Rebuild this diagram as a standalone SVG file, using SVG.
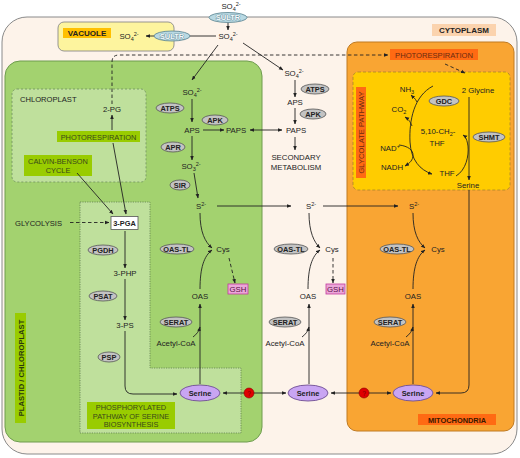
<svg xmlns="http://www.w3.org/2000/svg" width="520" height="458" viewBox="0 0 520 458">
<defs>
<marker id="ah" viewBox="0 0 10 10" refX="9" refY="5" markerWidth="5" markerHeight="5" orient="auto-start-reverse"><path d="M0,1 L10,5 L0,9 z" fill="#222"/></marker>
<style>
text{font-family:"Liberation Sans",Arial,sans-serif;fill:#222;text-anchor:middle}
.m{font-size:7.8px}
.e{font-size:7.4px;font-weight:bold;fill:#222}
.l{font-size:7.6px}
.b{font-size:8px;font-weight:bold}
.sub{font-size:5.5px}
.enz{fill:#c3c3c3;stroke:#555;stroke-width:0.8}
.sultr{fill:#b9d9e3;stroke:#56808e;stroke-width:0.8}
.st{font-size:7.5px;font-weight:bold;fill:#f4fbfd;stroke:#3d6a78;stroke-width:0.6;paint-order:stroke}
.ser{fill:#c9a5f3;stroke:#6f4e92;stroke-width:0.9}
.ln{fill:none;stroke:#222;stroke-width:0.9}
.arr{fill:none;stroke:#222;stroke-width:0.9;marker-end:url(#ah)}
.dash{stroke-dasharray:3.5,2.5}
.gl{fill:#99cc00}
.gt{font-size:7.4px;fill:#3a4a1a}
.ol{fill:#ff6a13}
.gsh{fill:#eba6d8;stroke:#c23a9e;stroke-width:0.8}
.q{fill:#e00000;stroke:#8a0000;stroke-width:0.6}
</style>
</defs>

<g id="compartments">
<rect x="2" y="17" width="515" height="437" rx="25" fill="#fdf3ea" stroke="#8a8a8a" stroke-width="1"/>
<rect x="58" y="22" width="116" height="29" rx="6" fill="#fdf49e" stroke="#8a8a8a" stroke-width="0.9"/>
<rect x="5" y="61" width="257" height="381" rx="15" fill="#a3d26f" stroke="#6e9c4e" stroke-width="1"/>
<rect x="12" y="89" width="134" height="93" rx="5" fill="#bfe09c" stroke="#6f8f5f" stroke-width="0.8" stroke-dasharray="2,2"/>
<path d="M80,202 H150 V368 H241 V433 H80 Z" fill="#bfe09c" stroke="#5f7f4f" stroke-width="0.8" stroke-dasharray="1.2,1.2"/>
<rect x="347" y="42" width="167" height="389" rx="10" fill="#f9a533" stroke="#bf7a22" stroke-width="1"/>
<rect x="353" y="72" width="157" height="118" rx="5" fill="#ffcc00" stroke="#a9852a" stroke-width="0.8" stroke-dasharray="3,2"/>
</g>

<g id="labels">
<rect x="63" y="28" width="48" height="10" fill="#ffc000"/>
<text class="b" x="87" y="36.3">VACUOLE</text>
<rect x="432" y="24" width="64" height="12" fill="#fbd3ae"/>
<text class="b" x="464" y="33">CYTOPLASM</text>
<rect x="390" y="49" width="88" height="11" class="ol"/>
<text class="l" x="434" y="57.5" style="fill:#6a2a10">PHOTORESPIRATION</text>
<rect x="356" y="87" width="10" height="91" class="ol"/>
<text class="l" transform="translate(364,132.5) rotate(-90)" style="fill:#6a2a10">GLYCOLATE PATHWAY</text>
<rect x="418" y="414" width="78" height="11" class="ol"/>
<text x="457" y="422.5" style="font-size:7.4px;font-weight:bold;fill:#3a1a00">MITOCHONDRIA</text>
<rect x="15" y="313" width="11" height="110" class="gl"/>
<text transform="translate(23.5,368) rotate(-90)" style="font-size:7.6px;font-weight:bold;fill:#2a3a10">PLASTID / CHLOROPLAST</text>
<text class="l" x="20" y="102" style="text-anchor:start">CHLOROPLAST</text>
<rect x="57" y="131" width="83" height="11" class="gl"/>
<text class="gt" x="98.5" y="139.5">PHOTORESPIRATION</text>
<rect x="24" y="155" width="68" height="21" class="gl"/>
<text class="gt" x="58" y="164">CALVIN-BENSON</text>
<text class="gt" x="58" y="172.5">CYCLE</text>
<rect x="87" y="402" width="88" height="27" class="gl"/>
<text class="gt" x="131" y="410">PHOSPHORYLATED</text>
<text class="gt" x="131" y="418.5">PATHWAY OF SERINE</text>
<text class="gt" x="131" y="427">BIOSYNTHESIS</text>
<text class="l" x="15" y="225.5" style="text-anchor:start">GLYCOLYSIS</text>
</g>

<g id="connectors">
<line class="arr" x1="228" y1="22.5" x2="228" y2="30"/>
<line class="arr" x1="216" y1="36" x2="146" y2="36"/>
<line class="arr" x1="218" y1="45" x2="192" y2="80"/>
<line class="arr" x1="243" y1="43" x2="283" y2="70"/>
<path class="arr dash" d="M112,104 V62 Q112,55 119,55 H388"/>
<line class="arr" x1="112" y1="130" x2="112" y2="115"/>
<line class="arr" x1="113" y1="143" x2="126" y2="214"/>
<line class="arr" x1="77" y1="173" x2="113" y2="214"/>
<line class="arr dash" x1="70" y1="222.5" x2="109" y2="222.5"/>
<line class="arr" x1="125" y1="231" x2="125" y2="268"/>
<line class="arr" x1="125" y1="279" x2="125" y2="320"/>
<path class="arr" d="M125,331 V386 Q125,394 133,394 H177"/>
<line class="arr" x1="192" y1="99" x2="192" y2="122"/>
<line class="arr" x1="203" y1="130" x2="224" y2="130"/>
<line class="arr" x1="192" y1="136" x2="192" y2="160"/>
<line class="arr" x1="194" y1="173" x2="198" y2="198"/>
<line class="arr" x1="217" y1="206" x2="291" y2="206"/>
<path class="arr" d="M200,213 C200,232 205,242 212,248"/>
<path class="arr" d="M200,289 C200,268 204,256 212,250"/>
<line class="arr dash" x1="229" y1="258" x2="235" y2="283"/>
<path class="arr" d="M193,337 C197,334 199,331 200,327"/>
<line class="arr" x1="200" y1="384" x2="200" y2="304"/>
<line class="arr" x1="295" y1="80" x2="295" y2="97"/>
<line class="arr" x1="295" y1="108" x2="295" y2="124"/>
<line class="ln" x1="250" y1="130" x2="282" y2="130" marker-start="url(#ah)" marker-end="url(#ah)"/>
<line class="arr" x1="295" y1="137" x2="295" y2="150"/>
<line class="arr" x1="323" y1="206" x2="398" y2="206"/>
<path class="arr" d="M309,213 C309,232 314,242 320,248"/>
<path class="arr" d="M308,289 C308,268 312,256 320,250"/>
<line class="arr dash" x1="333" y1="258" x2="333" y2="283"/>
<path class="arr" d="M302,337 C306,334 308,331 309,327"/>
<line class="arr" x1="309" y1="384" x2="309" y2="304"/>
<path class="arr" d="M413,213 C413,232 418,242 425,248"/>
<path class="arr" d="M413,289 C413,268 417,256 425,250"/>
<path class="arr" d="M406,337 C410,334 412,331 413,327"/>
<line class="arr" x1="413" y1="384" x2="413" y2="304"/>
<line class="ln" x1="223" y1="393" x2="286" y2="393" marker-start="url(#ah)" marker-end="url(#ah)"/>
<line class="ln" x1="331" y1="393" x2="391" y2="393" marker-start="url(#ah)" marker-end="url(#ah)"/>
<path class="arr" d="M469,190 V385 Q469,393 461,393 H436"/>
<line class="arr dash" x1="445" y1="64" x2="465" y2="73"/>
<line class="arr" x1="469" y1="97" x2="469" y2="180"/>
<path class="arr" d="M433,86 C414,96 409,120 410,142 C411,160 420,170 432,174"/>
<path class="arr" d="M417,102 C415,98 413,97 411,95"/>
<path class="arr" d="M412,126 C410,121 408,119 405,117"/>
<path class="arr" d="M399,145 C408,146 413,150 413,155 C413,160 410,163 405,166"/>
<path class="arr" d="M456,176 C466,170 469,156 468,146 C467,140 466,137 463,135"/>
</g>

<g id="n-so4-ext"><text class="m" x="231" y="9">SO<tspan class="sub" dy="2">4</tspan><tspan class="sub" dy="-5">2-</tspan></text></g>
<g id="n-sultr1"><ellipse class="sultr" cx="228" cy="17.5" rx="19" ry="5"/><text class="st" x="228" y="20.2">SULTR</text></g>
<g id="n-so4-cyt"><text class="m" x="228" y="39">SO<tspan class="sub" dy="2">4</tspan><tspan class="sub" dy="-5">2-</tspan></text></g>
<g id="n-sultr2"><ellipse class="sultr" cx="172" cy="36" rx="18" ry="5"/><text class="st" x="172" y="38.7">SULTR</text></g>
<g id="n-so4-vac"><text class="m" x="129" y="39">SO<tspan class="sub" dy="2">4</tspan><tspan class="sub" dy="-5">2-</tspan></text></g>

<g id="n-2pg"><text class="m" x="112" y="112">2-PG</text></g>
<g id="n-3pga"><rect x="111" y="216.5" width="27" height="13" fill="#fff" stroke="#555" stroke-width="0.8"/><text class="e" x="124.5" y="225.8">3-PGA</text></g>
<g id="n-pgdh"><ellipse class="enz" cx="103" cy="250" rx="15" ry="5"/><text class="e" x="103" y="252.7">PGDH</text></g>
<g id="n-3php"><text class="m" x="125" y="276">3-PHP</text></g>
<g id="n-psat"><ellipse class="enz" cx="103" cy="296" rx="14" ry="5"/><text class="e" x="103" y="298.7">PSAT</text></g>
<g id="n-3ps"><text class="m" x="125" y="328">3-PS</text></g>
<g id="n-psp"><ellipse class="enz" cx="109" cy="357" rx="11" ry="5"/><text class="e" x="109" y="359.7">PSP</text></g>

<g id="n-p-so4"><text class="m" x="192" y="95">SO<tspan class="sub" dy="2">4</tspan><tspan class="sub" dy="-5">2-</tspan></text></g>
<g id="n-p-atps"><ellipse class="enz" cx="170" cy="108" rx="14" ry="5"/><text class="e" x="170" y="110.7">ATPS</text></g>
<g id="n-p-aps"><text class="m" x="192" y="133">APS</text></g>
<g id="n-p-apk"><ellipse class="enz" cx="215" cy="120" rx="13" ry="5"/><text class="e" x="215" y="122.7">APK</text></g>
<g id="n-p-paps"><text class="m" x="236" y="133">PAPS</text></g>
<g id="n-p-apr"><ellipse class="enz" cx="173" cy="147" rx="12" ry="5"/><text class="e" x="173" y="149.7">APR</text></g>
<g id="n-p-so3"><text class="m" x="191" y="169">SO<tspan class="sub" dy="2">3</tspan><tspan class="sub" dy="-5">2-</tspan></text></g>
<g id="n-p-sir"><ellipse class="enz" cx="180" cy="185" rx="10" ry="5"/><text class="e" x="180" y="187.7">SIR</text></g>
<g id="n-p-s"><text class="m" x="201" y="209">S<tspan class="sub" dy="-3">2-</tspan></text></g>
<g id="n-p-oastl"><ellipse class="enz" cx="177" cy="249" rx="17" ry="5"/><text class="e" x="177" y="251.7">OAS-TL</text></g>
<g id="n-p-cys"><text class="m" x="223" y="252">Cys</text></g>
<g id="n-p-gsh"><rect class="gsh" x="228" y="284" width="20" height="10"/><text class="m" x="238" y="292" style="fill:#5a1048">GSH</text></g>
<g id="n-p-oas"><text class="m" x="200" y="299">OAS</text></g>
<g id="n-p-serat"><ellipse class="enz" cx="176" cy="322" rx="16" ry="5"/><text class="e" x="176" y="324.7">SERAT</text></g>
<g id="n-p-acoa"><text class="m" x="176" y="346">Acetyl-CoA</text></g>
<g id="n-p-ser"><ellipse class="ser" cx="200" cy="393" rx="20" ry="8"/><text class="e" x="200" y="396">Serine</text></g>

<g id="n-c-so4"><text class="m" x="294" y="76">SO<tspan class="sub" dy="2">4</tspan><tspan class="sub" dy="-5">2-</tspan></text></g>
<g id="n-c-atps"><ellipse class="enz" cx="315" cy="89" rx="14" ry="5"/><text class="e" x="315" y="91.7">ATPS</text></g>
<g id="n-c-aps"><text class="m" x="295" y="105">APS</text></g>
<g id="n-c-apk"><ellipse class="enz" cx="313" cy="114" rx="13" ry="5"/><text class="e" x="313" y="116.7">APK</text></g>
<g id="n-c-paps"><text class="m" x="296" y="133">PAPS</text></g>
<g id="n-c-sec"><text class="m" x="296" y="160">SECONDARY</text><text class="m" x="296" y="170">METABOLISM</text></g>
<g id="n-c-s"><text class="m" x="311" y="209">S<tspan class="sub" dy="-3">2-</tspan></text></g>
<g id="n-c-oastl"><ellipse class="enz" cx="291" cy="249" rx="17" ry="5"/><text class="e" x="291" y="251.7">OAS-TL</text></g>
<g id="n-c-cys"><text class="m" x="332" y="252">Cys</text></g>
<g id="n-c-gsh"><rect class="gsh" x="326" y="284" width="19" height="10"/><text class="m" x="335.5" y="292" style="fill:#5a1048">GSH</text></g>
<g id="n-c-oas"><text class="m" x="308" y="299">OAS</text></g>
<g id="n-c-serat"><ellipse class="enz" cx="285" cy="322" rx="16" ry="5"/><text class="e" x="285" y="324.7">SERAT</text></g>
<g id="n-c-acoa"><text class="m" x="285" y="346">Acetyl-CoA</text></g>
<g id="n-c-ser"><ellipse class="ser" cx="308" cy="393" rx="20" ry="8"/><text class="e" x="308" y="396">Serine</text></g>

<g id="n-q1"><circle class="q" cx="249" cy="393" r="5"/><text x="249" y="395.5" style="font-size:6.5px;fill:#7a0000">?</text></g>
<g id="n-q2"><circle class="q" cx="364" cy="393" r="5"/><text x="364" y="395.5" style="font-size:6.5px;fill:#7a0000">?</text></g>

<g id="n-m-gly"><text class="m" x="478" y="93">2 Glycine</text></g>
<g id="n-m-gdc"><ellipse class="enz" cx="444" cy="101" rx="15" ry="5"/><text class="e" x="444" y="103.7">GDC</text></g>
<g id="n-m-nh3"><text class="m" x="407" y="92">NH<tspan class="sub" dy="2">3</tspan></text></g>
<g id="n-m-co2"><text class="m" x="399" y="112">CO<tspan class="sub" dy="2">2</tspan></text></g>
<g id="n-m-ch2thf"><text class="m" x="438" y="134">5,10-CH<tspan class="sub" dy="2">2</tspan><tspan dy="-2">-</tspan></text><text class="m" x="437" y="146">THF</text></g>
<g id="n-m-shmt"><ellipse class="enz" cx="489" cy="137" rx="16" ry="5"/><text class="e" x="489" y="139.7">SHMT</text></g>
<g id="n-m-nad"><text class="m" x="390" y="151">NAD<tspan class="sub" dy="-3">+</tspan></text></g>
<g id="n-m-nadh"><text class="m" x="392" y="170">NADH</text></g>
<g id="n-m-thf"><text class="m" x="447" y="176">THF</text></g>
<g id="n-m-gser"><text class="m" x="468" y="188">Serine</text></g>
<g id="n-m-s"><text class="m" x="414" y="209">S<tspan class="sub" dy="-3">2-</tspan></text></g>
<g id="n-m-oastl"><ellipse class="enz" cx="397" cy="249" rx="17" ry="5"/><text class="e" x="397" y="251.7">OAS-TL</text></g>
<g id="n-m-cys"><text class="m" x="438" y="252">Cys</text></g>
<g id="n-m-oas"><text class="m" x="413" y="299">OAS</text></g>
<g id="n-m-serat"><ellipse class="enz" cx="390" cy="322" rx="16" ry="5"/><text class="e" x="390" y="324.7">SERAT</text></g>
<g id="n-m-acoa"><text class="m" x="390" y="346">Acetyl-CoA</text></g>
<g id="n-m-ser"><ellipse class="ser" cx="413" cy="393" rx="20" ry="8"/><text class="e" x="413" y="396">Serine</text></g>
</svg>
